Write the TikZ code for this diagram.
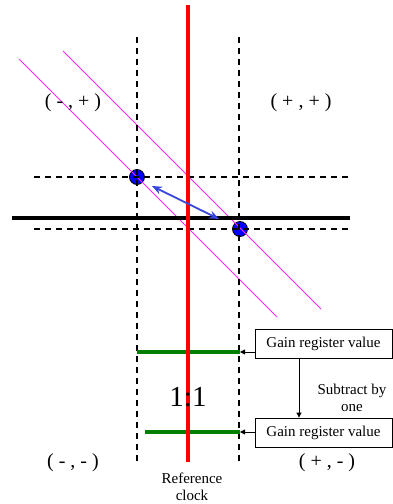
\documentclass[tikz,border=0pt]{standalone}
\usepackage{fontspec}
\setmainfont{Liberation Serif}
\usetikzlibrary{arrows.meta}
\definecolor{arrowblue}{RGB}{55,70,220}
\definecolor{gline}{RGB}{0,128,0}
\definecolor{magl}{RGB}{255,40,255}
\tikzset{
  gridline/.style={black, line width=1.5pt, dash pattern=on 6pt off 5pt},
  magline/.style={magl, line width=0.8pt},
  refline/.style={red, line width=3.8pt},
  axisline/.style={black, line width=3.5pt},
  greenline/.style={gline, line width=3.5pt},
  dot/.style={circle, fill=blue, draw=black, line width=0.8pt, minimum size=15pt, inner sep=0pt},
  quadlbl/.style={font=\fontsize{20}{22}\selectfont, inner sep=0pt},
  gainbox/.style={draw=black, line width=0.8pt, font=\fontsize{15}{17}\selectfont, minimum width=137pt, minimum height=29pt, inner sep=0pt},
  smalltxt/.style={font=\fontsize{15}{17}\selectfont, align=center, inner sep=0pt},
  ptr/.style={-{Triangle[length=5pt,width=5pt]}, black, line width=0.8pt},
}
\begin{document}
\begin{tikzpicture}[x=1pt,y=-1pt]
\useasboundingbox (0,0) rectangle (393,504);
% coordinates
\coordinate (m1a) at (19,59);   \coordinate (m1b) at (277,317);
\coordinate (m2a) at (63,51);   \coordinate (m2b) at (321,309);
\coordinate (vLt) at (137,37);  \coordinate (vLb) at (137,461);
\coordinate (vRt) at (239,37);  \coordinate (vRb) at (239,461);
\coordinate (hUl) at (34,177);  \coordinate (hUr) at (350,177);
\coordinate (hDl) at (34,229);  \coordinate (hDr) at (350,229);
\coordinate (axL) at (12,218);  \coordinate (axR) at (350,218);
\coordinate (rT) at (188,5);    \coordinate (rB) at (188,462);
\coordinate (g1L) at (137,352); \coordinate (g1R) at (240,352);
\coordinate (g2L) at (145,432); \coordinate (g2R) at (240,432);
% dots (beneath the grid, as in the reference)
\node[dot] (d1) at (137,177) {};
\node[dot] (d2) at (240,229) {};
% magenta lines
\draw[magline] (m1a) -- (m1b);
\draw[magline] (m2a) -- (m2b);
% dashed grid
\draw[gridline] (vLt) -- (vLb);
\draw[gridline] (vRt) -- (vRb);
\draw[gridline] (hUl) -- (hUr);
\draw[gridline] (hDl) -- (hDr);
% axis
\draw[axisline] (axL) -- (axR);
% green lines
\draw[greenline] (g1L) -- (g1R);
\draw[greenline] (g2L) -- (g2R);
% reference clock line
\draw[refline] (rT) -- (rB);
\coordinate (a1) at (152,186);
\coordinate (a2) at (219,219);
\draw[{Stealth[length=10pt,width=8pt]}-{Stealth[length=10pt,width=8pt]}, arrowblue, line width=1.8pt] (a1) -- (a2);
% quadrant labels
\node[quadlbl] (q1) at (73,103) {( - , + )};
\node[quadlbl] (q2) at (301,103) {( + , + )};
\node[quadlbl] (q3) at (73,463) {( - , - )};
\node[quadlbl] (q4) at (327,463) {( + , - )};
% ratio
\node[font=\fontsize{29}{31}\selectfont, inner sep=0pt] (ratio) at (188,397) {1:1};
% boxes
\node[gainbox] (b1) at (323.5,343.5) {Gain register value};
\node[gainbox] (b2) at (323.5,432.5) {Gain register value};
\draw[ptr] (b1.west |- g1R) -- (g1R);
\draw[ptr] (b2.west |- g2R) -- (g2R);
\draw[ptr] (b1.south -| 299,0) -- (b2.north -| 299,0);
\node[smalltxt] (sub) at (352,398) {Subtract by\\one};
\node[smalltxt] (ref) at (192,487) {Reference\\clock};
\end{tikzpicture}
\end{document}
